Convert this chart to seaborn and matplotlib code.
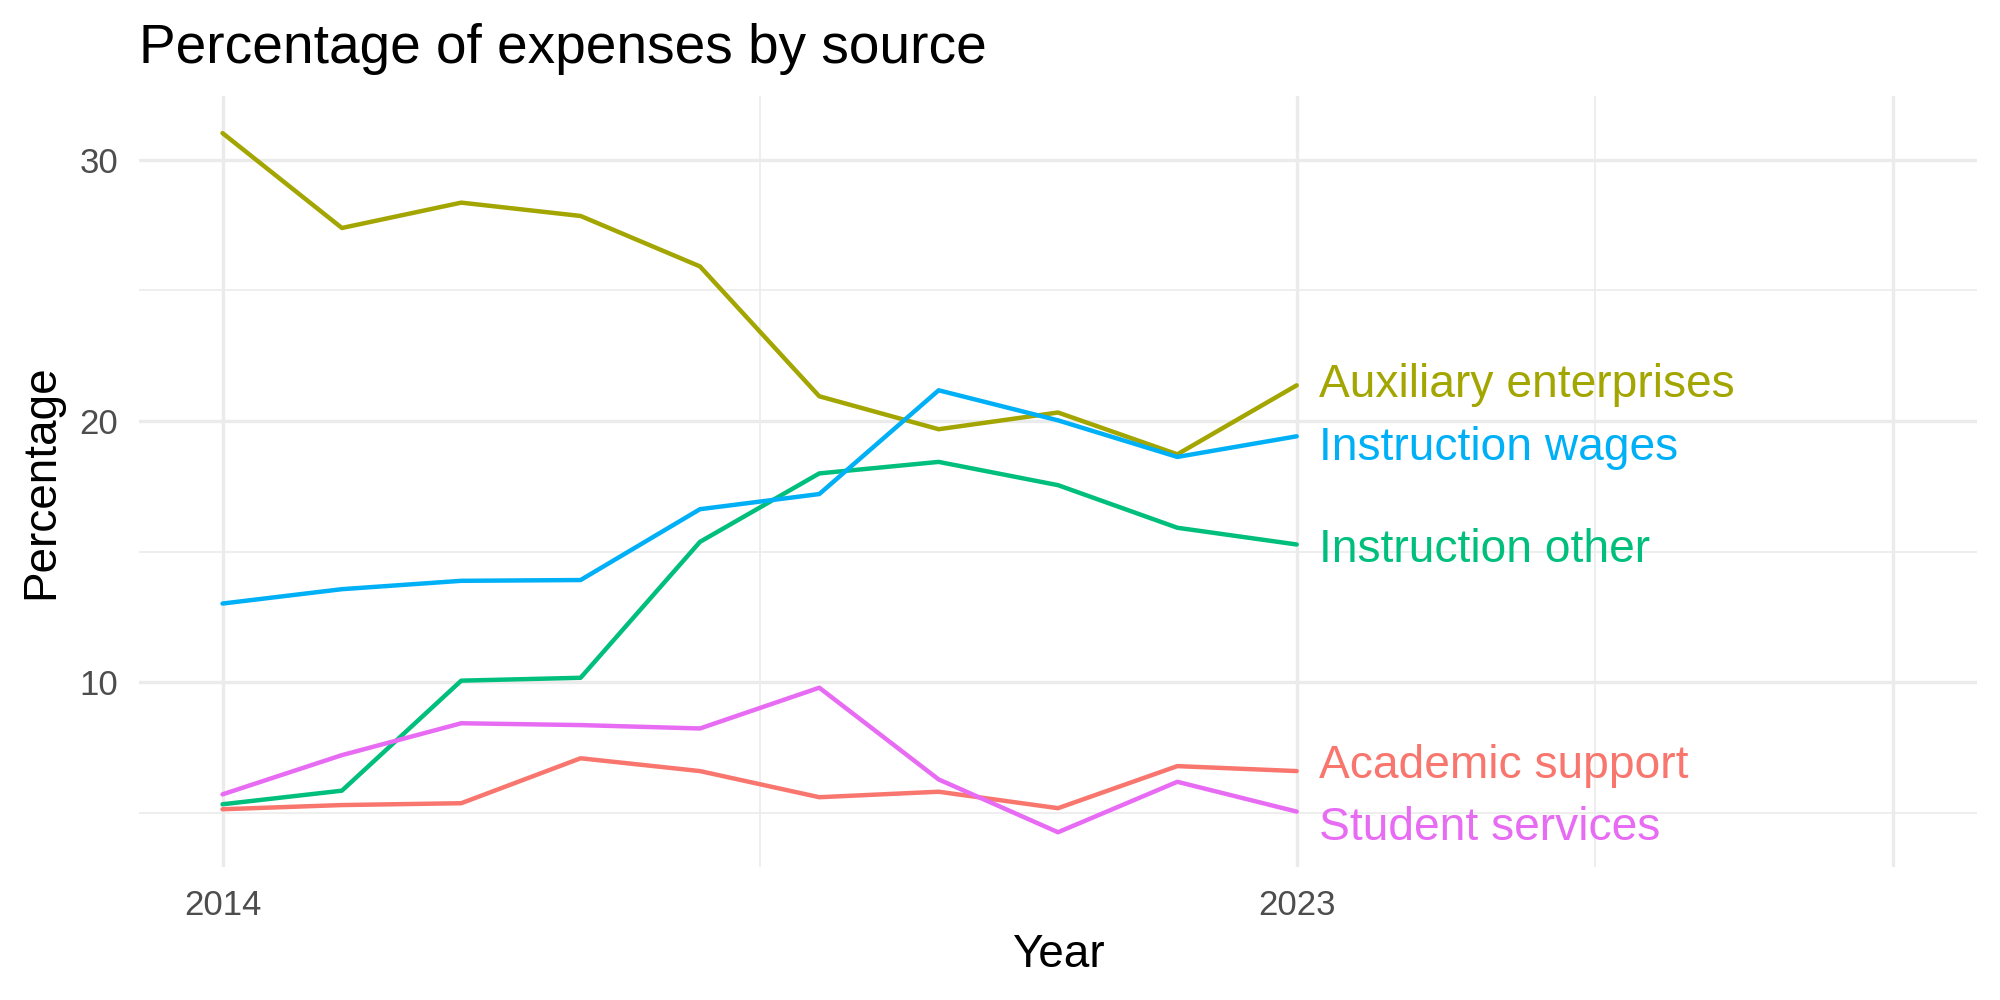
import pandas as pd
import matplotlib
matplotlib.use("Agg")
import matplotlib.pyplot as plt
import seaborn as sns

years = list(range(2014, 2024))
academic_support = [5.15, 5.31, 5.38, 7.10, 6.61, 5.61, 5.82, 5.19, 6.80, 6.61]
auxiliary_enterprises = [31.02, 27.39, 28.36, 27.85, 25.92, 20.95, 19.69, 20.33, 18.73, 21.37]
instruction_other = [5.34, 5.86, 10.07, 10.18, 15.38, 18.0, 18.44, 17.55, 15.92, 15.28]
instruction_wages = [13.02, 13.57, 13.89, 13.92, 16.63, 17.21, 21.18, 20.03, 18.63, 19.42]
student_services = [5.72, 7.22, 8.44, 8.37, 8.24, 9.80, 6.29, 4.27, 6.20, 5.06]

series = {
    "Academic support": academic_support,
    "Auxiliary enterprises": auxiliary_enterprises,
    "Instruction other": instruction_other,
    "Instruction wages": instruction_wages,
    "Student services": student_services,
}
palette = {
    "Academic support": "#F8766D",
    "Auxiliary enterprises": "#A3A500",
    "Instruction other": "#00BF7D",
    "Instruction wages": "#00B0F6",
    "Student services": "#E76BF3",
}

df = pd.concat([pd.DataFrame({"Year": years, "Percentage": v, "Source": k})
                for k, v in series.items()], ignore_index=True)

sns.set_theme(style="white")
plt.rcParams["font.family"] = ["Liberation Sans", "DejaVu Sans"]

fig = plt.figure(figsize=(10, 5), dpi=200)
ax = fig.add_axes([0.0695, 0.133, 0.919, 0.771])

sns.lineplot(data=df, x="Year", y="Percentage", hue="Source", palette=palette,
             linewidth=1.6, legend=False, ax=ax)

# end labels, pushed apart a little like ggrepel
last = df[df["Year"] == years[-1]].sort_values("Percentage")
names = list(last["Source"])
ys = list(last["Percentage"])
gap = 2.4
for _ in range(200):
    moved = False
    for i in range(len(ys) - 1):
        d = ys[i + 1] - ys[i]
        if d < gap - 1e-6:
            shift = (gap - d) / 2
            ys[i] -= shift
            ys[i + 1] += shift
            moved = True
    if not moved:
        break
for name, y in zip(names, ys):
    ax.annotate(name, xy=(years[-1], y), xytext=(8, -2), textcoords="offset points",
                va="center", ha="left", fontsize=16.6, color=palette[name])

ax.set_xlim(2013.3, 2028.7)
ax.set_ylim(2.94, 32.44)
ax.set_xticks([2014, 2023, 2028])
ax.set_xticklabels(["2014", "2023", ""])
ax.set_xticks([2018.5, 2025.5], minor=True)
ax.set_yticks([10, 20, 30])
ax.set_yticks([5, 15, 25], minor=True)

ax.grid(which="major", color="#EBEBEB", linewidth=1.2)
ax.grid(which="minor", color="#EBEBEB", linewidth=0.6)
ax.set_axisbelow(True)
for s in ax.spines.values():
    s.set_visible(False)
ax.tick_params(which="both", length=0)
ax.tick_params(axis="y", labelsize=12.5, labelcolor="#4D4D4D", pad=7.5)
ax.tick_params(axis="x", labelsize=12.5, labelcolor="#4D4D4D", pad=8)

ax.set_xlabel("Year", fontsize=16.5, color="black", labelpad=4)
ax.set_ylabel("Percentage", fontsize=16.5, color="black", labelpad=5.7)
ax.set_title("Percentage of expenses by source", loc="left", fontsize=19.8,
             color="black", pad=12)

fig.savefig("out.png", dpi=200)
